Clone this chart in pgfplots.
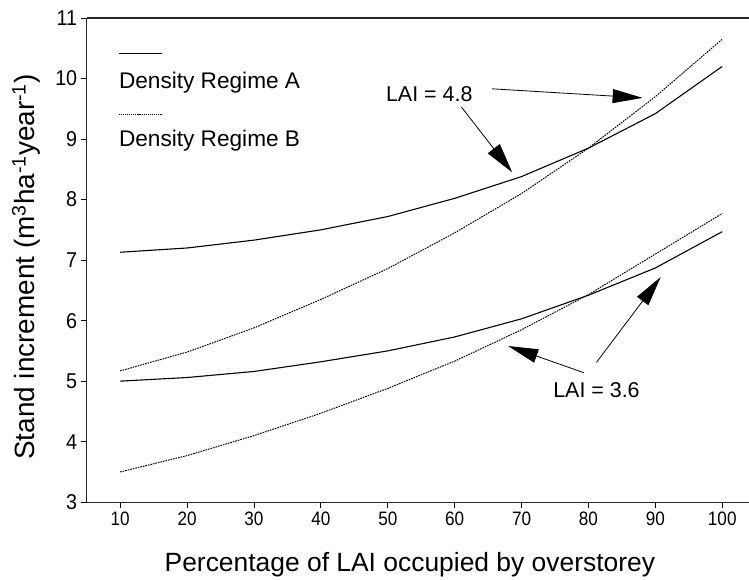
\documentclass[border=0pt]{standalone}
\usepackage{fontspec}
\setmainfont{Liberation Sans}
\newfontfamily\narrowfont{Liberation Sans}[FakeStretch=0.88]
\newfontfamily\ynarrowfont{Liberation Sans}[FakeStretch=0.92]
\usepackage{pgfplots}
\pgfplotsset{compat=1.18}
\usetikzlibrary{arrows.meta}
\begin{document}
\begin{tikzpicture}
\begin{axis}[
  scale only axis,
  width=662bp, height=484bp,
  xmin=5, xmax=104, ymin=3, ymax=11,
  axis x line*=box, axis y line*=left,
  axis line style={line width=1.1pt, black!85},
  xtick={10,20,...,100}, ytick={3,4,...,11},
  xtick pos=bottom, ytick pos=left,
  tick align=outside, major tick length=6bp,
  tick style={line width=0.8pt, black},
  /pgf/number format/assume math mode=true,
  xticklabel style={font=\fontsize{19.5}{21}\selectfont\narrowfont},
  yticklabel style={font=\fontsize{21.5}{23}\selectfont\ynarrowfont},
  xlabel={Percentage of LAI occupied by overstorey},
  ylabel={Stand increment (m\textsuperscript{3}ha\textsuperscript{-1}year\textsuperscript{-1})},
  xlabel style={font=\fontsize{26.5}{28}\selectfont, yshift=-20bp, xshift=-8bp},
  ylabel style={font=\fontsize{28}{30}\selectfont, yshift=8bp, xshift=-7bp},
  clip=false,
]
\addplot[black, line width=1.1pt] coordinates {(10,7.13) (20,7.20) (30,7.33) (40,7.50) (50,7.72) (60,8.02) (70,8.38) (80,8.85) (90,9.42) (100,10.20)};
\addplot[black, line width=1pt, dash pattern=on 1.6pt off 1pt] coordinates {(10,5.17) (20,5.48) (30,5.88) (40,6.35) (50,6.86) (60,7.45) (70,8.10) (80,8.85) (90,9.70) (100,10.65)};
\addplot[black, line width=1.1pt] coordinates {(10,5.00) (20,5.06) (30,5.16) (40,5.32) (50,5.50) (60,5.73) (70,6.03) (80,6.42) (90,6.87) (100,7.47)};
\addplot[black, line width=1pt, dash pattern=on 1.6pt off 1pt] coordinates {(10,3.50) (20,3.77) (30,4.10) (40,4.47) (50,4.88) (60,5.33) (70,5.85) (80,6.43) (90,7.10) (100,7.77)};
% legend
\draw[black, line width=1.1pt] (axis cs:9.75,10.42) -- (axis cs:16.3,10.42);
\node[anchor=west, inner sep=0pt, font=\fontsize{22.7}{24}\selectfont] at (axis cs:9.8,9.94) {Density Regime A};
\draw[black, line width=0.9pt, dash pattern=on 1.2pt off 0.9pt] (axis cs:9.75,9.41) -- (axis cs:16.3,9.41);
\node[anchor=west, inner sep=0pt, font=\fontsize{22.7}{24}\selectfont] at (axis cs:9.8,8.98) {Density Regime B};
% annotations
\node[inner sep=0pt, font=\fontsize{21.5}{23}\selectfont] at (axis cs:56.2,9.74) {LAI = 4.8};
\draw[line width=0.8pt, -{Triangle[length=30bp,width=14bp]}] (axis cs:65.6,9.83) -- (axis cs:88.1,9.68);
\draw[line width=0.8pt, -{Triangle[length=30bp,width=15bp]}] (axis cs:61.0,9.53) -- (axis cs:68.6,8.45);
\node[inner sep=0pt, font=\fontsize{21.5}{23}\selectfont] at (axis cs:81.2,4.85) {LAI = 3.6};
\draw[line width=0.8pt, -{Triangle[length=30bp,width=14bp]}] (axis cs:79.3,5.14) -- (axis cs:68.0,5.58);
\draw[line width=0.8pt, -{Triangle[length=30bp,width=14bp]}] (axis cs:81.2,5.31) -- (axis cs:90.8,6.72);
\coordinate (sw) at (rel axis cs:0,0);
\coordinate (ne) at (rel axis cs:1,1);
\end{axis}
\pgfresetboundingbox
\path[use as bounding box] ([xshift=-86.7bp,yshift=-77bp]sw) rectangle ([yshift=18bp]ne);
\end{tikzpicture}
\end{document}
